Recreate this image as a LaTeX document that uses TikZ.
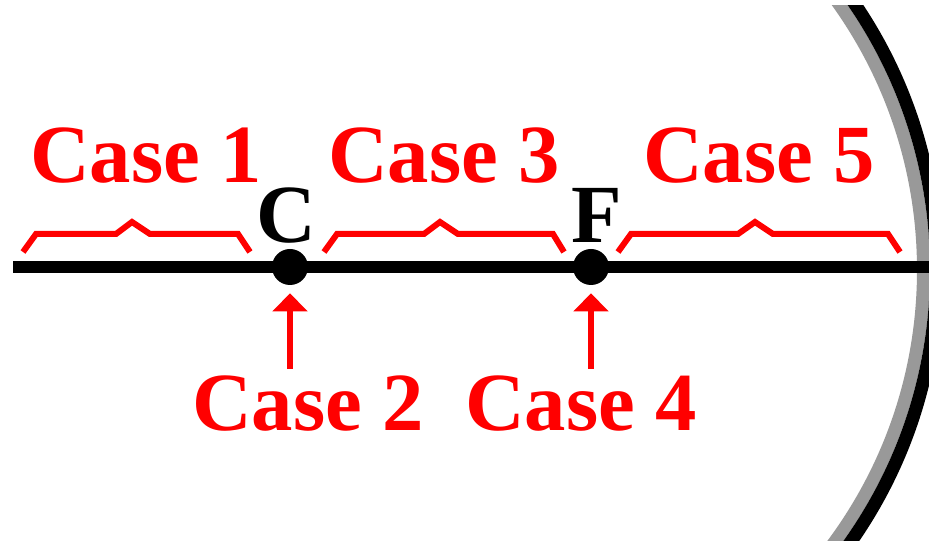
\documentclass[tikz,border=0pt]{standalone}
\usepackage{fontspec}
\setmainfont{Liberation Serif}
\usetikzlibrary{arrows.meta}
\definecolor{mirrorgray}{RGB}{153,153,153}
\definecolor{casered}{RGB}{255,0,0}
\tikzset{
  caselabel/.style={text=casered, font=\fontsize{62}{62}\selectfont\bfseries, inner sep=0pt, anchor=base},
  pointlabel/.style={text=black, font=\fontsize{62}{62}\selectfont\bfseries, inner sep=0pt, anchor=base},
  focaldot/.style={circle, fill=black, minimum size=27pt, inner sep=0pt},
  bracket/.style={draw=casered, line width=4.5pt, line join=miter},
  pointer/.style={draw=casered, line width=5pt, -{Triangle[width=25.5pt,length=13.5pt]}, shorten >=6pt},
  axisline/.style={draw=black, line width=9pt}
}
\begin{document}
\begin{tikzpicture}[x=0.75pt, y=-0.75pt]
  \useasboundingbox (0,0) rectangle (929,541);

  % concave mirror: grey reflecting face with black backing
  \begin{scope}
    \clip (700,6) rectangle (929,541);
    \draw[mirrorgray, line width=9.75pt] (463,270) circle[radius=460.5];
    \draw[black, line width=9.75pt] (463,270) circle[radius=473.5];
  \end{scope}

  % principal axis
  \coordinate (axL) at (13,267);
  \coordinate (axR) at (929,267);
  \draw[axisline] (axL) -- (axR);

  % centre of curvature and focal point
  \node[focaldot] (C) at (290,267) {};
  \node[focaldot] (F) at (591,267) {};
  \node[pointlabel] (Clab) at (286,243) {C};
  \node[pointlabel] (Flab) at (597,243) {F};

  % brackets over the three regions
  \draw[bracket] (23,252) -- (36,234) -- (116,234) -- (132,222) -- (150,234) -- (238,234) -- (250,252);
  \draw[bracket] (324,252) -- (337,234) -- (424,234) -- (440,222) -- (458,234) -- (553,234) -- (564,252);
  \draw[bracket] (618,252) -- (631,234) -- (738,234) -- (755,222) -- (773,234) -- (888,234) -- (900,252);

  % case labels
  \node[caselabel] (case1) at (146,183) {Case 1};
  \node[caselabel] (case3) at (444,183) {Case 3};
  \node[caselabel] (case5) at (759,183) {Case 5};
  \node[caselabel] (case2) at (308,431) {Case 2};
  \node[caselabel] (case4) at (581,431) {Case 4};

  % pointers to C and F
  \coordinate (pC) at (290,369);
  \coordinate (pF) at (591,369);
  \draw[pointer] (pC) -- (C);
  \draw[pointer] (pF) -- (F);
\end{tikzpicture}
\end{document}
